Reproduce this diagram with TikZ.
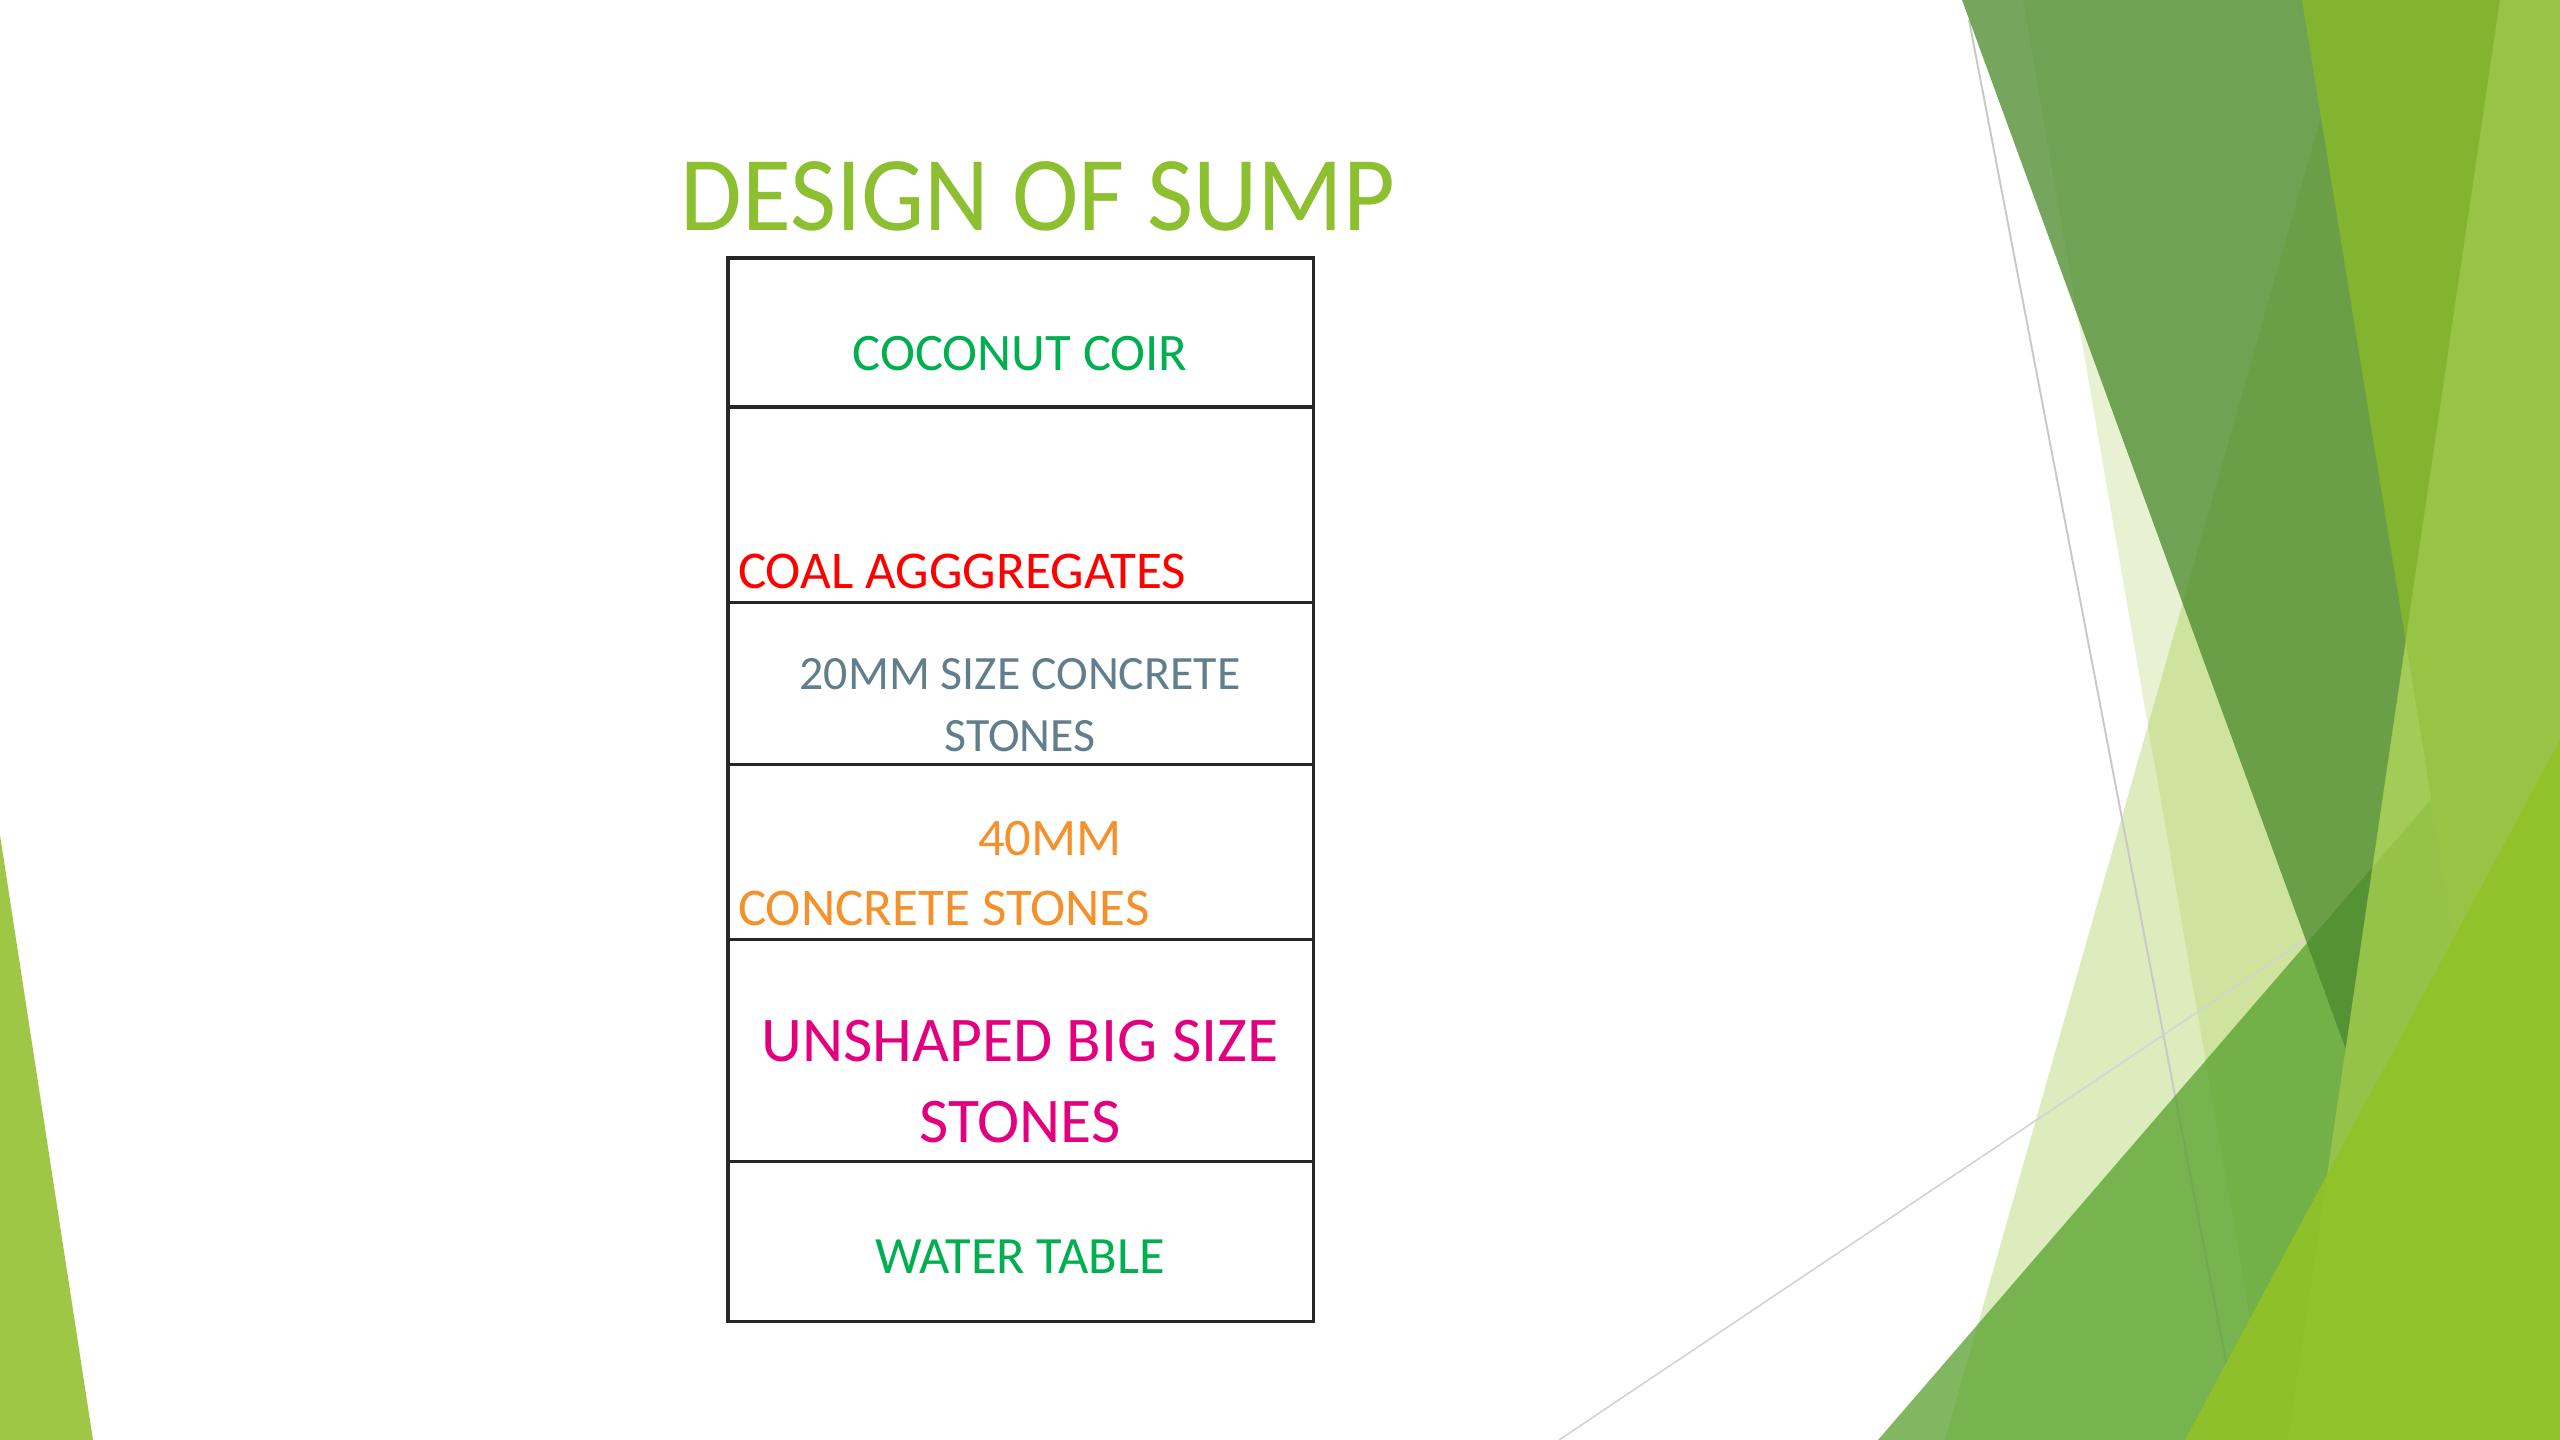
\documentclass[tikz,border=0pt]{standalone}
\usepackage{fontspec}
\setmainfont{Carlito}
\usepackage{xcolor}
\usepackage{tikz}
\usetikzlibrary{positioning}

\definecolor{titlegreen}{RGB}{140,192,48}
\definecolor{coirgreen}{RGB}{0,176,80}
\definecolor{coalred}{RGB}{255,0,0}
\definecolor{slategray}{RGB}{96,126,140}
\definecolor{stoneorange}{RGB}{245,145,45}
\definecolor{bigmagenta}{RGB}{226,0,128}
\definecolor{faceta}{RGB}{144,194,38}
\definecolor{facetb}{RGB}{86,160,43}
\definecolor{facetolive}{RGB}{77,138,46}
\definecolor{facetyellow}{RGB}{131,180,48}
\definecolor{facetlight}{RGB}{156,199,75}
\definecolor{facetleft}{RGB}{160,198,70}
\definecolor{hairgray}{RGB}{200,200,200}

\begin{document}
\begin{tikzpicture}[
            x=0.01cm, y=-0.01cm,
            layer/.style={draw=black!85, line width=0.9pt, minimum width=5.85cm, outer sep=0pt, inner sep=0pt},
            txt/.style={inner sep=0pt, outer sep=0pt},
            facet/.style={draw=none}
        ]
        \useasboundingbox (0,0) rectangle (2560,1440);
        \fill[white] (0,0) rectangle (2560,1440);

        % --- Fondo del tema (facetas) ---
        \fill[facet, faceta, fill opacity=0.3] (2354,0) -- (2560,0) -- (2560,1440) -- (1945,1440) -- cycle;
        \fill[facet, faceta, fill opacity=0.2] (2023,0) -- (2560,0) -- (2560,1440) -- (2271,1440) -- cycle;
        \draw[hairgray, line width=0.55pt] (1969,20) -- (2241,1440);
        \draw[hairgray!80, line width=0.45pt] (1559,1440) -- (2320,930);
        \fill[facet, facetb, fill opacity=0.75] (1878,1440) -- (2560,650) -- (2560,1440) -- cycle;
        \fill[facet, facetolive, fill opacity=0.77] (1962,0) -- (2500,0) -- (2346,1050) -- cycle;
        \fill[facet, facetyellow] (2302,0) -- (2560,0) -- (2560,1440) -- (2535,1440) -- cycle;
        \fill[facet, facetlight, fill opacity=0.85] (2500,0) -- (2560,0) -- (2560,1440) -- (2288,1440) -- cycle;
        \fill[facet, faceta, fill opacity=0.9] (2185,1440) -- (2449,947) -- (2560,740) -- (2560,1440) -- cycle;
        \fill[facet, facetleft] (0,835) -- (93,1440) -- (0,1440) -- cycle;

        % --- Titulo ---
        \node[txt, text=titlegreen, font=\fontsize{28.5}{34}\selectfont, yscale=1.06] (title) at (1038,196) {DESIGN OF SUMP};

        % --- Capas del sumidero ---
        \node[layer, minimum height=1.49cm, anchor=north west] (coir) at (728,258) {};
        \node[layer, minimum height=1.95cm, below=0cm of coir] (coal) {};
        \node[layer, minimum height=1.62cm, below=0cm of coal] (stoneSmall) {};
        \node[layer, minimum height=1.75cm, below=0cm of stoneSmall] (stoneMid) {};
        \node[layer, minimum height=2.22cm, below=0cm of stoneMid] (stoneBig) {};
        \node[layer, minimum height=1.60cm, below=0cm of stoneBig] (waterTable) {};

        % --- Textos de las capas ---
        \node[txt, text=coirgreen, font=\fontsize{15}{18}\selectfont] (coirTxt) at (1020,354) {COCONUT COIR};
        \node[txt, text=coalred, font=\fontsize{15.1}{18}\selectfont, anchor=west] (coalTxt) at (738,571) {COAL AGGGREGATES};
        \node[txt, text=slategray, font=\fontsize{13.6}{17.6}\selectfont, align=center] (stoneSmallTxt) at (1020,705) {20MM SIZE CONCRETE\\STONES};
        \node[txt, text=stoneorange, font=\fontsize{15}{18}\selectfont] (stoneMidTop) at (1050,839) {40MM};
        \node[txt, text=stoneorange, font=\fontsize{15.1}{18}\selectfont, anchor=west] (stoneMidTxt) at (738,908) {CONCRETE STONES};
        \node[txt, text=bigmagenta, font=\fontsize{18.1}{23}\selectfont, align=center] (stoneBigTxt) at (1020,1082) {UNSHAPED BIG SIZE\\STONES};
        \node[txt, text=coirgreen, font=\fontsize{14.9}{18}\selectfont] (waterTxt) at (1020,1257) {WATER TABLE};

\end{tikzpicture}
\end{document}
